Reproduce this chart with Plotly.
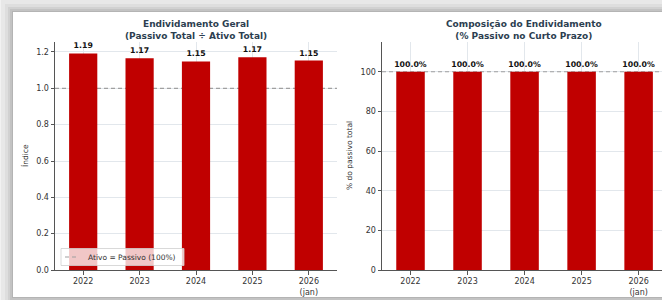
import plotly.graph_objects as go

W, H = 662, 300

categories = ["2022", "2023", "2024", "2025", "2026<br>(jan)"]
endividamento = [1.192, 1.166, 1.148, 1.171, 1.153]
pct_curto_prazo = [100.0, 100.0, 100.0, 100.0, 100.0]
left_yticks = [0.0, 0.2, 0.4, 0.6, 0.8, 1.0, 1.2]
right_yticks = [0, 20, 40, 60, 80, 100]
legend_label = "Ativo = Passivo (100%)"

BAR = "#c00000"
TITLE_C = "#2c3e50"
FONT = "DejaVu Sans"
REF_LINE = dict(color="#a0a0a0", dash="4px,3px", width=1.2)
xpos = list(range(len(categories)))


def px_x(p):
    return p / W


def px_y(p):
    return 1 - p / H


fig = go.Figure()

fig.add_trace(go.Bar(
    x=xpos, y=endividamento, width=0.5, marker=dict(color=BAR, line=dict(width=0)),
    text=[f"<b>{v:.2f}</b>" for v in endividamento], textposition="outside",
    textfont=dict(family=FONT, size=7.8, color="#111"), cliponaxis=False, constraintext="none",
    showlegend=False, xaxis="x", yaxis="y", hoverinfo="skip"))

fig.add_trace(go.Bar(
    x=xpos, y=pct_curto_prazo, width=0.5, marker=dict(color=BAR, line=dict(width=0)),
    text=[f"<b>{v:.1f}%</b>" for v in pct_curto_prazo], textposition="outside",
    textfont=dict(family=FONT, size=7.8, color="#111"), cliponaxis=False, constraintext="none",
    showlegend=False, xaxis="x2", yaxis="y2", hoverinfo="skip"))

shapes = []
# card shadow + card
for grow, op in [(12, 0.04), (8, 0.045), (5, 0.055), (3, 0.065), (1, 0.075)]:
    shapes.append(dict(type="rect", xref="paper", yref="paper",
                       x0=px_x(13 - grow), x1=px_x(W + 20), y0=px_y(297 + grow), y1=px_y(12 - grow),
                       fillcolor=f"rgba(0,0,0,{op})", line=dict(width=0), layer="below"))
shapes.append(dict(type="rect", xref="paper", yref="paper",
                   x0=px_x(13), x1=px_x(W + 20), y0=px_y(297), y1=px_y(12),
                   fillcolor="white", line=dict(width=0), layer="below"))
# reference lines behind bars
shapes.append(dict(type="line", xref="x", yref="y", x0=-0.5, x1=4.5, y0=1.0, y1=1.0,
                   line=REF_LINE, layer="between"))
shapes.append(dict(type="line", xref="x2", yref="y2", x0=-0.5, x1=4.5, y0=100, y1=100,
                   line=REF_LINE, layer="between"))
# legend box (left panel, lower left)
shapes.append(dict(type="rect", xref="paper", yref="paper",
                   x0=px_x(61), x1=px_x(184), y0=px_y(265.5), y1=px_y(248.5),
                   fillcolor="rgba(255,255,255,0.78)", line=dict(color="#cfcfcf", width=0.8),
                   layer="above"))
shapes.append(dict(type="line", xref="paper", yref="paper",
                   x0=px_x(65), x1=px_x(79), y0=px_y(257), y1=px_y(257),
                   line=REF_LINE, layer="above"))

annotations = [
    dict(text="<b>Endividamento Geral<br>(Passivo Total ÷ Ativo Total)</b>", xref="paper", yref="paper",
         x=px_x(196), y=px_y(29.5), xanchor="center", yanchor="middle", showarrow=False,
         font=dict(family=FONT, size=9, color=TITLE_C)),
    dict(text="<b>Composição do Endividamento<br>(% Passivo no Curto Prazo)</b>", xref="paper", yref="paper",
         x=px_x(524), y=px_y(29.5), xanchor="center", yanchor="middle", showarrow=False,
         font=dict(family=FONT, size=9, color=TITLE_C)),
    dict(text="Índice", xref="paper", yref="paper", x=px_x(25), y=px_y(156), textangle=-90,
         xanchor="center", yanchor="middle", showarrow=False, font=dict(family=FONT, size=7.5, color="#333")),
    dict(text="% do passivo total", xref="paper", yref="paper", x=px_x(349), y=px_y(156), textangle=-90,
         xanchor="center", yanchor="middle", showarrow=False, font=dict(family=FONT, size=7.5, color="#333")),
    dict(text=legend_label, xref="paper", yref="paper", x=px_x(86), y=px_y(257),
         xanchor="left", yanchor="middle", showarrow=False, font=dict(family=FONT, size=7.5, color="#333")),
]

axis_common = dict(showline=True, linecolor="#555555", linewidth=1, ticks="outside", ticklen=3.5,
                   tickcolor="#555555", tickwidth=1, showgrid=True, gridcolor="#e2e7ec", gridwidth=1,
                   zeroline=False, tickfont=dict(family=FONT, size=8, color="#333"), mirror=False,
                   automargin=False)

fig.update_layout(
    width=W, height=H, margin=dict(l=0, r=0, t=0, b=0, pad=0), autosize=False,
    paper_bgcolor="#f2f2f2", plot_bgcolor="#f2f5f9",
    font=dict(family=FONT),
    showlegend=False,
    xaxis=dict(domain=[px_x(55), px_x(337)], range=[-0.5, 4.5], tickmode="array",
               tickvals=xpos, ticktext=categories, **axis_common),
    yaxis=dict(domain=[px_y(270), px_y(42)], range=[0, 1.255], tickmode="array",
               tickvals=left_yticks, ticktext=[f"{v:.1f}" for v in left_yticks], **axis_common),
    xaxis2=dict(domain=[px_x(382), 1.0], range=[-0.5, 4.41], tickmode="array",
                tickvals=xpos, ticktext=categories, anchor="y2", **axis_common),
    yaxis2=dict(domain=[px_y(270), px_y(42)], range=[0, 115], tickmode="array",
                tickvals=right_yticks, ticktext=[str(v) for v in right_yticks], anchor="x2", **axis_common),
    shapes=shapes, annotations=annotations,
)

fig.write_html("out.html", config={"displayModeBar": False},
               post_script="document.body.style.margin='0';document.body.style.overflow='hidden';")
